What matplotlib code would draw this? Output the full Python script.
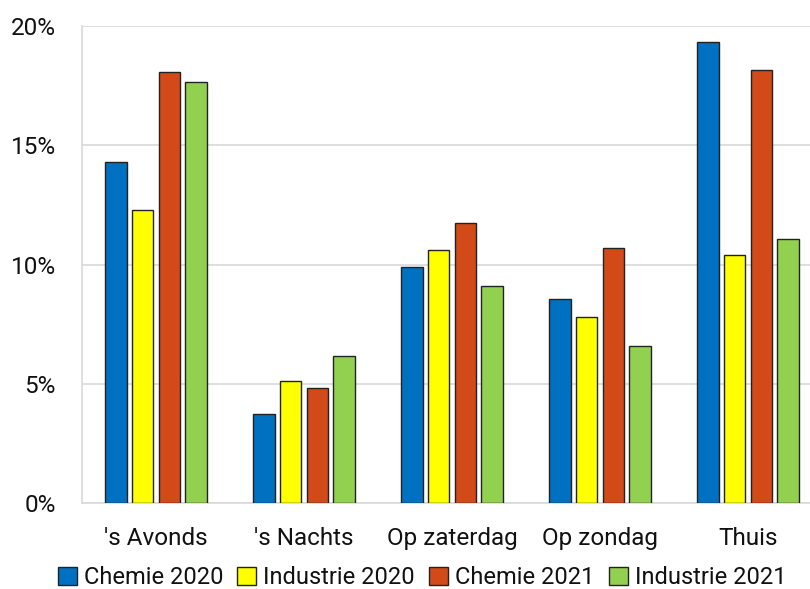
import matplotlib
matplotlib.use("Agg")
import matplotlib.pyplot as plt
import numpy as np
from matplotlib.patches import Patch

plt.rcParams['font.family'] = ['Roboto', 'DejaVu Sans']

categories = ["'s Avonds", "'s Nachts", "Op zaterdag", "Op zondag", "Thuis"]
series = ["Chemie 2020", "Industrie 2020", "Chemie 2021", "Industrie 2021"]
chemie_2020 = [14.3, 3.75, 9.9, 8.55, 19.33]
industrie_2020 = [12.3, 5.1, 10.6, 7.8, 10.4]
chemie_2021 = [18.07, 4.82, 11.72, 10.7, 18.17]
industrie_2021 = [17.65, 6.18, 9.1, 6.58, 11.08]
yticks = [0, 5, 10, 15, 20]
colors = ["#0070C0", "#FFFF00", "#D24A17", "#92D050"]

values = [chemie_2020, industrie_2020, chemie_2021, industrie_2021]

fig = plt.figure(figsize=(8.1, 5.89), dpi=100)
ax = fig.add_axes([82/810, 86/589, 1 - 82/810, 477/589])

x = np.arange(len(categories))
step = 0.18
width = 0.145
for i, (vals, col) in enumerate(zip(values, colors)):
    ax.bar(x + (i - 1.5) * step, vals, width=width, color=col,
           edgecolor="#222222", linewidth=1.0, zorder=3, label=series[i])

ax.set_xlim(-0.5, -0.5 + (810 - 82) / 148)
ax.set_ylim(0, 20)
ax.set_yticks(yticks)
ax.set_yticklabels([f"{t}%" for t in yticks], fontsize=17.5, color="#111111")
ax.set_xticks(x)
ax.set_xticklabels(categories, fontsize=17.5, color="#111111")
ax.tick_params(axis='both', length=0)
ax.tick_params(axis='x', pad=17)
ax.tick_params(axis='y', pad=19)
ax.grid(axis='y', color="#D9D9D9", linewidth=1.2, zorder=0)
for s in ['top', 'right']:
    ax.spines[s].set_visible(False)
ax.spines['left'].set_color("#D9D9D9")
ax.spines['bottom'].set_color("#D9D9D9")
ax.spines['left'].set_linewidth(1.2)
ax.spines['bottom'].set_linewidth(1.2)

handles = [Patch(facecolor=c, edgecolor="#222222", linewidth=1.0) for c in colors]
fig.legend(handles, series, loc='center', bbox_to_anchor=(422/810, 1 - 578/589),
           ncol=4, frameon=False, fontsize=17, handlelength=0.8, handleheight=0.8,
           handletextpad=0.3, columnspacing=0.6, borderpad=0, labelcolor="#111111")

fig.savefig("out.png", dpi=100, facecolor="white")
